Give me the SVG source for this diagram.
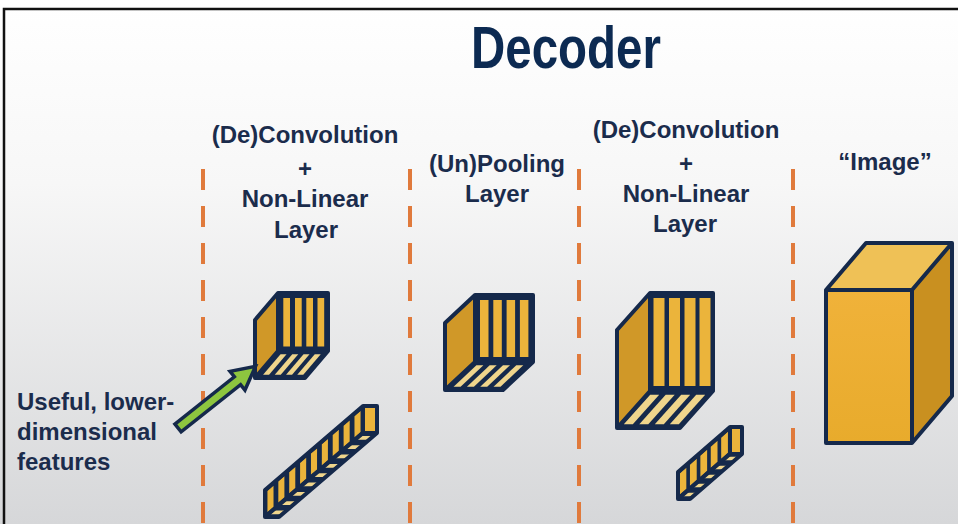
<svg xmlns="http://www.w3.org/2000/svg" width="958" height="524" viewBox="0 0 958 524">
<defs>
<linearGradient id="bg" x1="0" y1="0" x2="0" y2="1">
<stop offset="0" stop-color="#ffffff"/>
<stop offset="0.35" stop-color="#f7f7f7"/>
<stop offset="1" stop-color="#d6d7d9"/>
</linearGradient>
<linearGradient id="front" x1="0" y1="0" x2="0" y2="1">
<stop offset="0" stop-color="#f0b23a"/>
<stop offset="1" stop-color="#e8ab2c"/>
</linearGradient>
<marker id="none" markerWidth="1" markerHeight="1"/>
</defs>
<style>
.lbl{font-family:"Liberation Sans",Arial,sans-serif;font-weight:bold;font-size:24px;fill:#1b2c4c}
.mid{text-anchor:middle}
.title{font-family:"Liberation Sans",Arial,sans-serif;font-weight:bold;font-size:60px;fill:#0c2a52;text-anchor:middle}
.div{stroke:#e07a3c;stroke-width:4;stroke-dasharray:21 16;fill:none}
.navy{fill:#15294b}
.gold{fill:#ebb43b}
.side{fill:#d09828}
.pale{fill:#efd58c}
.edge{fill:none;stroke:#15294b;stroke-width:4;stroke-linejoin:round}
.arrow{fill:#8dc63f;stroke:#15294b;stroke-width:3.5;stroke-linejoin:miter}
</style>
<rect x="0" y="0" width="958" height="524" fill="url(#bg)"/>
<path d="M4,524 V9 H958" fill="none" stroke="#111" stroke-width="2.5"/>

<g id="title"><text class="title" x="566" y="68" textLength="190" lengthAdjust="spacingAndGlyphs">Decoder</text></g>

<g id="dividers">
<line class="div" x1="203" y1="169" x2="203" y2="524"/>
<line class="div" x1="410" y1="169" x2="410" y2="524"/>
<line class="div" x1="579" y1="169" x2="579" y2="524"/>
<line class="div" x1="793" y1="169" x2="793" y2="524"/>
</g>

<g id="label-deconv1" class="lbl mid">
<text x="305" y="143">(De)Convolution</text>
<text x="305" y="177">+</text>
<text x="305" y="207">Non-Linear</text>
<text x="306" y="238">Layer</text>
</g>
<g id="label-unpool" class="lbl mid">
<text x="497" y="172">(Un)Pooling</text>
<text x="497" y="202">Layer</text>
</g>
<g id="label-deconv2" class="lbl mid">
<text x="686" y="138">(De)Convolution</text>
<text x="686" y="172">+</text>
<text x="686" y="202">Non-Linear</text>
<text x="685" y="232">Layer</text>
</g>
<g id="label-image" class="lbl mid"><text x="885" y="170">“Image”</text></g>
<g id="label-features" class="lbl">
<text x="17" y="410">Useful, lower-</text>
<text x="17" y="440">dimensional</text>
<text x="17" y="470">features</text>
</g>

<!-- Cube 1: deconv layer 1 -->
<g id="cube-deconv1">
<polygon class="navy" points="278,293 328,293 328,351 305,378 255,378 255,320"/>
<polygon class="side" points="278,293 278,351 255,378 255,320"/>
<g class="gold"><rect x="283.3" y="298" width="6.7" height="48.5"/><rect x="295" y="298" width="6.7" height="48.5"/><rect x="306.3" y="298" width="6.7" height="48.5"/><rect x="317.5" y="298" width="6.7" height="48.5"/></g>
<g class="pale" transform="matrix(1,0,-23,27,278,351)"><rect x="5.3" y="0.12" width="6" height="0.76"/><rect x="17" y="0.12" width="6" height="0.76"/><rect x="28.3" y="0.12" width="6" height="0.76"/><rect x="39.5" y="0.12" width="6" height="0.76"/></g>
<path class="edge" d="M278,293 H328 V351 L305,378 H255 V320 Z M278,293 V351 H328 M278,351 L255,378"/>
</g>

<!-- Stick 1 -->
<g id="stick-deconv1">
<polygon class="navy" points="363,406 377,406 377,433 279,517 265,517 265,490"/>
<rect class="gold" x="363" y="406" width="14" height="27"/>
<g class="gold" transform="matrix(-98,84,0,1,363,406)">
<rect x="0.025" y="3" width="0.062" height="21"/><rect x="0.136" y="3" width="0.062" height="21"/><rect x="0.247" y="3" width="0.062" height="21"/><rect x="0.358" y="3" width="0.062" height="21"/><rect x="0.469" y="3" width="0.062" height="21"/><rect x="0.580" y="3" width="0.062" height="21"/><rect x="0.691" y="3" width="0.062" height="21"/><rect x="0.802" y="3" width="0.062" height="21"/><rect x="0.913" y="3" width="0.062" height="21"/>
</g>
<g class="pale" transform="matrix(1,0,-98,84,363,433)">
<rect x="2" y="0.035" width="10" height="0.045"/><rect x="2" y="0.146" width="10" height="0.045"/><rect x="2" y="0.257" width="10" height="0.045"/><rect x="2" y="0.368" width="10" height="0.045"/><rect x="2" y="0.479" width="10" height="0.045"/><rect x="2" y="0.590" width="10" height="0.045"/><rect x="2" y="0.701" width="10" height="0.045"/><rect x="2" y="0.812" width="10" height="0.045"/><rect x="2" y="0.923" width="10" height="0.045"/>
</g>
<path class="edge" d="M363,406 H377 V433 L279,517 H265 V490 Z M363,406 V433 H377 M363,433 L265,517"/>
</g>

<!-- Cube 2: unpooling -->
<g id="cube-unpool">
<polygon class="navy" points="475,295 533,295 533,362 503,390 445,390 445,323"/>
<polygon class="side" points="475,295 475,362 445,390 445,323"/>
<g class="gold"><rect x="480" y="300" width="8.5" height="57"/><rect x="493.3" y="300" width="8.5" height="57"/><rect x="506.6" y="300" width="8.5" height="57"/><rect x="519.9" y="300" width="8.5" height="57"/></g>
<g class="pale" transform="matrix(1,0,-30,28,475,362)"><rect x="5" y="0.12" width="7" height="0.76"/><rect x="18.3" y="0.12" width="7" height="0.76"/><rect x="31.6" y="0.12" width="7" height="0.76"/><rect x="44.9" y="0.12" width="7" height="0.76"/></g>
<path class="edge" d="M475,295 H533 V362 L503,390 H445 V323 Z M475,295 V362 H533 M475,362 L445,390"/>
</g>

<!-- Cube 3: deconv layer 2 -->
<g id="cube-deconv2">
<polygon class="navy" points="650,293 713,293 713,391 680,428 617,428 617,330"/>
<polygon class="side" points="650,293 650,391 617,428 617,330"/>
<g class="gold"><rect x="653.5" y="298" width="11" height="88"/><rect x="669" y="298" width="11" height="88"/><rect x="684.5" y="298" width="11" height="88"/><rect x="699.5" y="298" width="11" height="88"/></g>
<g class="pale" transform="matrix(1,0,-33,37,650,391)"><rect x="3.5" y="0.1" width="9" height="0.8"/><rect x="19" y="0.1" width="9" height="0.8"/><rect x="34.5" y="0.1" width="9" height="0.8"/><rect x="49.5" y="0.1" width="9" height="0.8"/></g>
<path class="edge" d="M650,293 H713 V391 L680,428 H617 V330 Z M650,293 V391 H713 M650,391 L617,428"/>
</g>

<!-- Stick 2 -->
<g id="stick-deconv2">
<polygon class="navy" points="730,427 742,427 742,454 690,499 678,499 678,472"/>
<rect class="gold" x="730" y="427" width="12" height="27"/>
<g class="gold" transform="matrix(-52,45,0,1,730,427)">
<rect x="0.04" y="3" width="0.13" height="21"/><rect x="0.24" y="3" width="0.13" height="21"/><rect x="0.44" y="3" width="0.13" height="21"/><rect x="0.64" y="3" width="0.13" height="21"/><rect x="0.84" y="3" width="0.13" height="21"/>
</g>
<g class="pale" transform="matrix(1,0,-52,45,730,454)">
<rect x="2" y="0.06" width="8" height="0.08"/><rect x="2" y="0.26" width="8" height="0.08"/><rect x="2" y="0.46" width="8" height="0.08"/><rect x="2" y="0.66" width="8" height="0.08"/><rect x="2" y="0.86" width="8" height="0.08"/>
</g>
<path class="edge" d="M730,427 H742 V454 L690,499 H678 V472 Z M730,427 V454 H742 M730,454 L678,499"/>
</g>

<!-- Image cube -->
<g id="cube-image">
<polygon fill="#efc156" points="826,290 866,243 952,243 912,290"/>
<polygon fill="#c99020" points="912,290 952,243 952,396 912,443"/>
<rect x="826" y="290" width="86" height="153" fill="url(#front)"/>
<path class="edge" d="M826,290 L866,243 H952 V396 L912,443 H826 Z M826,290 H912 V443 M912,290 L952,243"/>
</g>

<g id="connectors">
<path class="arrow" transform="translate(178,428) rotate(-38.5)" d="M0,-5 H76 V-12 L99,0 L76,12 V5 H0 Z"/>
</g>
</svg>
